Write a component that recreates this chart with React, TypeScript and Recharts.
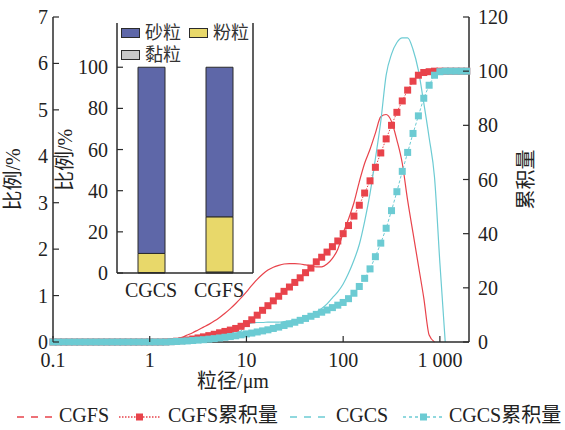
import { ComposedChart, BarChart, Bar, Line, XAxis, YAxis } from 'recharts';

const AXIS = '#2b2b2b';
const RED = '#e8434b';
const CYAN = '#6ccbd3';
const SAND = '#5e67a8';
const SILT = '#e8d86a';
const CLAY = '#c9c9c9';
const FONT = '"Liberation Serif", "Times New Roman", "Noto Sans CJK SC", serif';

// particle size classes, µm
const sizes = [
  0.1, 0.1136, 0.1292, 0.1468, 0.1668, 0.1896, 0.2154, 0.2448, 0.2783, 0.3162, 0.3594, 0.4084, 0.4642, 0.5275, 0.5995, 0.6813, 0.7743, 0.8799,
  1, 1.136, 1.292, 1.468, 1.668, 1.896, 2.154, 2.448, 2.783, 3.162, 3.594, 4.084, 4.642, 5.275, 5.995, 6.813, 7.743, 8.799,
  10, 11.36, 12.92, 14.68, 16.68, 18.96, 21.54, 24.48, 27.83, 31.62, 35.94, 40.84, 46.42, 52.75, 59.95, 68.13, 77.43, 87.99,
  100, 113.6, 129.2, 146.8, 166.8, 189.6, 215.4, 244.8, 278.3, 316.2, 359.4, 408.4, 464.2, 527.5, 599.5, 681.3, 774.3, 879.9,
  1000, 1136, 1292, 1468, 1668, 1896,
];

// CGFS frequency, %
const cgfsFreq = [
  null, null, null, null, null, null, null, null, null, null, null, null, null, null, null, null, null, null,
  null, null, 0, 0, 0.02, 0.06, 0.1, 0.15, 0.2, 0.26, 0.32, 0.38, 0.45, 0.53, 0.62, 0.72, 0.83, 0.95,
  1.08, 1.22, 1.35, 1.46, 1.55, 1.61, 1.65, 1.68, 1.69, 1.69, 1.68, 1.66, 1.64, 1.62, 1.62, 1.68, 1.8, 2.0,
  2.35, 2.65, 3.0, 3.45, 3.85, 4.15, 4.5, 4.85, 4.9, 4.75, 4.35, 3.85, 3.05, 2.35, 1.65, 0.95, 0.15, 0,
  null, null, null, null, null, null,
];

// CGFS cumulative, %
const cgfsCum = [
  0, 0, 0, 0, 0, 0, 0, 0, 0, 0, 0, 0, 0, 0, 0, 0, 0, 0,
  0, 0, 0, 0.05, 0.15, 0.3, 0.5, 0.75, 1.1, 1.5, 1.9, 2.35, 2.85, 3.4, 3.9, 4.4, 5.0, 5.8,
  6.8, 8.2, 9.9, 11.7, 13.4, 15.2, 16.9, 18.7, 20.3, 22.0, 23.7, 25.6, 27.3, 29.6, 31.3, 33.2, 35.2, 37.3,
  40.0, 43.0, 46.5, 50.5, 55.0, 59.5, 64.5, 69.8, 75.0, 80.0, 84.8, 89.0, 93.0, 96.3, 98.5, 99.5, 99.8, 100,
  100, 100, 100, 100, 100, 100,
];

// CGCS frequency, %
const cgcsFreq = [
  null, null, null, null, null, null, null, null, null, null, null, null, null, null, null, null, null, null,
  null, null, null, null, null, null, null, null, 0, 0.03, 0.05, 0.07, 0.09, 0.11, 0.13, 0.15, 0.18, 0.24,
  0.38, 0.41, 0.42, 0.42, 0.43, 0.43, 0.43, 0.44, 0.45, 0.47, 0.5, 0.54, 0.58, 0.64, 0.72, 0.82, 0.95, 1.08,
  1.25, 1.48, 1.76, 2.1, 2.6, 3.2, 3.95, 4.75, 5.75, 6.2, 6.45, 6.55, 6.55, 6.3, 5.85, 5.15, 4.4, 3.55,
  1.7, 0, null, null, null, null,
];

// CGCS cumulative, %
const cgcsCum = [
  0, 0, 0, 0, 0, 0, 0, 0, 0, 0, 0, 0, 0, 0, 0, 0, 0, 0,
  0, 0, 0, 0, 0.1, 0.2, 0.3, 0.4, 0.55, 0.7, 0.85, 1.05, 1.25, 1.5, 1.75, 2.0, 2.3, 2.65,
  3.0, 3.3, 3.7, 4.1, 4.5, 5.0, 5.5, 6.1, 6.7, 7.3, 8.0, 8.7, 9.5, 10.2, 11.0, 11.8, 12.7, 13.6,
  14.6, 16.0, 18.0, 20.5, 23.5, 27.0, 31.5, 36.5, 42.0, 48.5, 55.5, 63.0, 70.0, 77.0, 83.5, 90.0, 94.8, 98.5,
  99.8, 100, 100, 100, 100, 100,
];

const xTicks = [0.1, 1, 10, 100, 1000];
const leftTicks = [0, 1, 2, 3, 4, 5, 6, 7];
const rightTicks = [0, 20, 40, 60, 80, 100, 120];

// inset: soil texture fractions, %
const samples = ['CGCS', 'CGFS'];
const sand = [90.5, 72.7];
const silt = [9.3, 26.8];
const clay = [0.2, 0.5];
const insetTicks = [0, 20, 40, 60, 80, 100];

const rows = sizes.map((s, i) => ({
  size: s,
  fsF: cgfsFreq[i],
  cumF: cgfsCum[i],
  fsC: cgcsFreq[i],
  cumC: cgcsCum[i],
}));

const insetRows = samples.map((n, i) => ({ name: n, sand: sand[i], silt: silt[i], clay: clay[i] }));

const fmtX = (v: number) => (v === 1000 ? '1 000' : String(v));

// ticks point into the plot, so draw them ourselves
const tickFor = (side: 'left' | 'right' | 'bottom', margin: number, fmt?: (v: any) => string, size = 20) => (p: any) => {
  const { x, y, payload } = p;
  const label = fmt ? fmt(payload.value) : String(payload.value);
  const len = 6;
  if (side === 'left') {
    const ax = x + margin;
    return (
      <g>
        <line x1={ax} x2={ax + len} y1={y} y2={y} stroke={AXIS} strokeWidth={1.2} />
        <text x={x} y={y} dy="0.35em" textAnchor="end" fontSize={size} fill="#222" fontFamily={FONT}>{label}</text>
      </g>
    );
  }
  if (side === 'right') {
    const ax = x - margin;
    return (
      <g>
        <line x1={ax} x2={ax - len} y1={y} y2={y} stroke={AXIS} strokeWidth={1.2} />
        <text x={x} y={y} dy="0.35em" textAnchor="start" fontSize={size} fill="#222" fontFamily={FONT}>{label}</text>
      </g>
    );
  }
  const ay = y - margin;
  return (
    <g>
      <line x1={x} x2={x} y1={ay} y2={ay - len} stroke={AXIS} strokeWidth={1.2} />
      <text x={x} y={y} dy="0.78em" textAnchor="middle" fontSize={size} fill="#222" fontFamily={FONT}>{label}</text>
    </g>
  );
};

const plainXTick = (p: any) => (
  <text x={p.x} y={p.y} dy="0.75em" textAnchor="middle" fontSize={20} fill="#222" fontFamily={FONT}>{p.payload.value}</text>
);

const square = (color: string) => (p: any) => {
  if (p.cx == null || p.cy == null || p.value == null) return <g key={`d${p.index}`} />;
  return <rect key={`d${p.index}`} x={p.cx - 3.5} y={p.cy - 3.5} width={7} height={7} fill={color} />;
};

const vLabel = (text: string, dxFromAxis: (vb: any) => number, cy?: number) => (p: any) => {
  const vb = p.viewBox;
  const x = dxFromAxis(vb);
  const y = cy ?? vb.y + vb.height / 2;
  return (
    <text x={x} y={y} transform={`rotate(-90 ${x} ${y})`} textAnchor="middle" dominantBaseline="middle" fontSize={20} fill="#222" fontFamily={FONT}>
      {text}
    </text>
  );
};

const xLabel = (p: any) => {
  const vb = p.viewBox;
  return (
    <text x={vb.x + vb.width / 2 - 28} y={vb.y + 41} textAnchor="middle" dominantBaseline="middle" fontSize={20} fill="#222" fontFamily={FONT}>
      粒径/μm
    </text>
  );
};

const axisLine = { stroke: AXIS, strokeWidth: 1.5 };

function InsetLegend() {
  const sw = (left: number, top: number, color: string) => (
    <div style={{ position: 'absolute', left, top, width: 17, height: 8, background: color, border: `1px solid ${AXIS}` }} />
  );
  const tx = (left: number, top: number, t: string) => (
    <div style={{ position: 'absolute', left, top, fontSize: 18, lineHeight: '20px', color: '#333', fontFamily: FONT }}>{t}</div>
  );
  return (
    <>
      {sw(121, 28, SAND)}
      {tx(145, 23, '砂粒')}
      {sw(189, 28, SILT)}
      {tx(213, 23, '粉粒')}
      {sw(121, 50, CLAY)}
      {tx(145, 45, '黏粒')}
    </>
  );
}

function BottomLegend() {
  const y = 17;
  const t = (x: number, s: string) => (
    <text x={x} y={y} dominantBaseline="middle" fontSize={20} fill="#222" fontFamily={FONT}>{s}</text>
  );
  return (
    <svg width={565} height={30} style={{ position: 'absolute', left: 0, top: 400 }}>
      <line x1={17} x2={52} y1={y} y2={y} stroke={RED} strokeWidth={1.3} strokeDasharray="7 7" />
      {t(59, 'CGFS')}
      <line x1={119} x2={161} y1={y} y2={y} stroke={RED} strokeWidth={1.3} strokeDasharray="1.5 1.5" />
      <rect x={136} y={y - 3.5} width={7} height={7} fill={RED} />
      {t(168, 'CGFS累积量')}
      <line x1={290} x2={329} y1={y} y2={y} stroke={CYAN} strokeWidth={1.3} strokeDasharray="7 7" />
      {t(336, 'CGCS')}
      <line x1={403} x2={444} y1={y} y2={y} stroke={CYAN} strokeWidth={1.3} strokeDasharray="3 3" />
      <rect x={420} y={y - 3.5} width={7} height={7} fill={CYAN} />
      {t(449, 'CGCS累积量')}
    </svg>
  );
}

export default function App() {
  return (
    <div style={{ position: 'absolute', left: 0, top: 0, width: 565, height: 430, background: '#fff', fontFamily: FONT }}>
      <ComposedChart width={565} height={430} data={rows} margin={{ top: 17, right: 0, bottom: 0, left: 0 }}>
        <XAxis
          dataKey="size"
          type="number"
          scale="log"
          domain={[0.1, 2000]}
          ticks={xTicks}
          height={88}
          tickSize={0}
          tickMargin={9}
          tickLine={false}
          tick={tickFor('bottom', 9, fmtX)}
          axisLine={axisLine}
          label={xLabel}
        />
        <XAxis xAxisId="top" orientation="top" type="number" scale="log" domain={[0.1, 2000]} height={0} tick={false} tickLine={false} axisLine={axisLine} />
        <YAxis
          yAxisId="left"
          domain={[0, 7]}
          ticks={leftTicks}
          width={53}
          tickSize={0}
          tickMargin={5}
          tickLine={false}
          tick={tickFor('left', 5)}
          axisLine={axisLine}
          label={vLabel('比例/%', () => 15)}
        />
        <YAxis
          yAxisId="right"
          orientation="right"
          domain={[0, 120]}
          ticks={rightTicks}
          width={96}
          tickSize={0}
          tickMargin={9}
          tickLine={false}
          tick={tickFor('right', 9)}
          axisLine={axisLine}
          label={vLabel('累积量', (vb) => vb.x + 59)}
        />
        <Line yAxisId="left" dataKey="fsF" type="monotone" stroke={RED} strokeWidth={1.2} dot={false} activeDot={false} isAnimationActive={false} />
        <Line yAxisId="right" dataKey="cumF" type="linear" stroke={RED} strokeWidth={1} strokeDasharray="1.5 1.5" dot={square(RED)} activeDot={false} isAnimationActive={false} />
        <Line yAxisId="left" dataKey="fsC" type="monotone" stroke={CYAN} strokeWidth={1.2} dot={false} activeDot={false} isAnimationActive={false} />
        <Line yAxisId="right" dataKey="cumC" type="linear" stroke={CYAN} strokeWidth={1} strokeDasharray="3 2" dot={square(CYAN)} activeDot={false} isAnimationActive={false} />
      </ComposedChart>

      <div style={{ position: 'absolute', left: 40, top: 0, width: 240, height: 320, background: 'transparent' }}>
        <BarChart width={240} height={320} data={insetRows} margin={{ top: 23, right: 0, bottom: 0, left: 0 }} barSize={27}>
          <XAxis dataKey="name" height={47} tickSize={0} tickMargin={9} tickLine={false} tick={plainXTick} axisLine={axisLine} />
          <XAxis xAxisId="t" dataKey="name" orientation="top" height={0} tick={false} tickLine={false} axisLine={axisLine} />
          <YAxis
            domain={[0, 121.5]}
            ticks={insetTicks}
            width={77}
            tickSize={0}
            tickMargin={9}
            tickLine={false}
            tick={tickFor('left', 9)}
            axisLine={axisLine}
            label={vLabel('比例/%', () => 27, 160)}
          />
          <YAxis yAxisId="r" orientation="right" width={27} domain={[0, 1]} tick={false} tickLine={false} axisLine={axisLine} />
          <Bar dataKey="clay" stackId="a" fill={CLAY} stroke={AXIS} strokeWidth={1} isAnimationActive={false} />
          <Bar dataKey="silt" stackId="a" fill={SILT} stroke={AXIS} strokeWidth={1} isAnimationActive={false} />
          <Bar dataKey="sand" stackId="a" fill={SAND} stroke={AXIS} strokeWidth={1} isAnimationActive={false} />
        </BarChart>
      </div>
      <InsetLegend />
      <BottomLegend />
    </div>
  );
}
